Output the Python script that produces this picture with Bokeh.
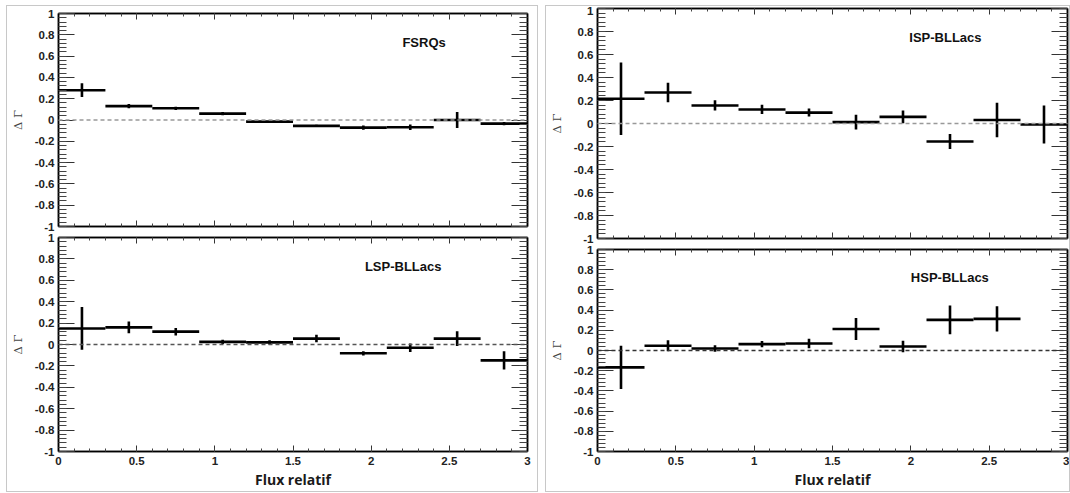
from bokeh.plotting import figure
from bokeh.models import (Span, Label, LinearAxis, SingleIntervalTicker,
                          CustomJSTickFormatter, Range1d, Spacer)
from bokeh.layouts import row, column
from bokeh.embed import file_html
from bokeh.resources import INLINE

# ---------------- data ----------------
bin_centers = [0.15, 0.45, 0.75, 1.05, 1.35, 1.65, 1.95, 2.25, 2.55, 2.85]
bin_half_width = 0.15

fsrq_vals = [0.28, 0.13, 0.11, 0.06, -0.015, -0.055, -0.072, -0.068, 0.0, -0.034]
fsrq_errs = [0.065, 0.02, 0.015, 0.015, 0.01, 0.01, 0.02, 0.025, 0.075, 0.015]

lsp_vals = [0.15, 0.16, 0.12, 0.025, 0.02, 0.055, -0.082, -0.03, 0.055, -0.148]
lsp_errs = [0.2, 0.055, 0.035, 0.02, 0.02, 0.035, 0.02, 0.04, 0.07, 0.085]

isp_vals = [0.215, 0.27, 0.157, 0.122, 0.095, 0.012, 0.058, -0.157, 0.031, -0.009]
isp_errs = [0.315, 0.085, 0.045, 0.04, 0.035, 0.065, 0.055, 0.065, 0.15, 0.165]

hsp_centers = bin_centers[:9]
hsp_vals = [-0.167, 0.047, 0.02, 0.063, 0.07, 0.213, 0.04, 0.303, 0.313]
hsp_errs = [0.215, 0.055, 0.033, 0.03, 0.047, 0.11, 0.057, 0.143, 0.125]

x_ticks_interval = 0.5
y_ticks_interval = 0.2
x_axis_title = "Flux relatif"
y_axis_title = "\u0394 \u0393"

FONT = "Liberation Sans"
NUM_FMT = "return Number(tick.toFixed(2)).toString();"
NO_FMT = "return '';"


def make_panel(name, centers, vals, errs, width, height, borders,
               show_x_labels, zero_color, title_xy):
    bl, br, bt, bb = borders
    p = figure(width=width, height=height, output_backend="svg", toolbar_location=None,
               x_range=Range1d(0, 3), y_range=Range1d(-1, 1),
               min_border_left=bl, min_border_right=br, min_border_top=bt,
               min_border_bottom=bb, background_fill_color="white",
               border_fill_color="white")
    p.grid.visible = False
    p.outline_line_color = "black"
    p.outline_line_width = 1.5

    p.add_layout(LinearAxis(), "right")
    p.add_layout(LinearAxis(), "above")
    for ax in p.yaxis:
        ax.ticker = SingleIntervalTicker(interval=y_ticks_interval, num_minor_ticks=5)
        ax.major_tick_in = 16
        ax.major_tick_out = 0
        ax.minor_tick_in = 8
        ax.minor_tick_out = 0
    for ax in p.xaxis:
        ax.ticker = SingleIntervalTicker(interval=x_ticks_interval, num_minor_ticks=5)
        ax.major_tick_in = 6
        ax.major_tick_out = 0
        ax.minor_tick_in = 3
        ax.minor_tick_out = 0
    for ax in list(p.xaxis) + list(p.yaxis):
        ax.axis_line_color = "black"
        ax.axis_line_width = 1.5
        ax.major_tick_line_color = "#333333"
        ax.minor_tick_line_color = "#444444"
        ax.major_label_text_font = FONT
        ax.major_label_text_font_style = "bold"
        ax.major_label_text_font_size = "11.5px"
        ax.major_label_text_color = "#222222"
        ax.major_label_standoff = 4
        ax.formatter = CustomJSTickFormatter(code=NUM_FMT)

    # mirrored axes: ticks only
    for ax in (p.right[0], p.above[0]):
        ax.formatter = CustomJSTickFormatter(code=NO_FMT)
        ax.major_label_standoff = 0

    bottom_axis = p.below[0]
    if show_x_labels:
        bottom_axis.axis_label = x_axis_title
        bottom_axis.axis_label_text_font = "Open Sans"
        bottom_axis.axis_label_text_font_style = "bold"
        bottom_axis.axis_label_text_font_size = "14px"
        bottom_axis.axis_label_text_color = "#1a1a1a"
        bottom_axis.axis_label_standoff = 2
        bottom_axis.major_label_standoff = 5
    else:
        bottom_axis.formatter = CustomJSTickFormatter(code=NO_FMT)
        bottom_axis.major_label_standoff = 0

    left_axis = p.left[0]
    left_axis.axis_label = y_axis_title
    left_axis.axis_label_text_font = "DejaVu Serif"
    left_axis.axis_label_text_font_style = "normal"
    left_axis.axis_label_text_font_size = "11.5px"
    left_axis.axis_label_text_color = "#444444"
    left_axis.axis_label_standoff = 7

    p.add_layout(Span(location=0, dimension="width", line_color=zero_color,
                      line_dash="4 3", line_width=1.5))

    x0 = [c - bin_half_width for c in centers]
    x1 = [c + bin_half_width for c in centers]
    ylo = [v - e for v, e in zip(vals, errs)]
    yhi = [v + e for v, e in zip(vals, errs)]
    p.segment(x0=x0, x1=x1, y0=vals, y1=vals, line_color="black", line_width=2.6)
    p.segment(x0=centers, x1=centers, y0=ylo, y1=yhi, line_color="black", line_width=2.6)

    p.add_layout(Label(x=title_xy[0], y=title_xy[1], text=name, text_font=FONT,
                       text_font_style="bold", text_font_size="13px",
                       text_color="#111111", text_baseline="middle"))
    return p


lt = make_panel("FSRQs", bin_centers, fsrq_vals, fsrq_errs, 530, 225,
                (47, 10, 7, 5), False, "#999999", (2.2, 0.73))
lb = make_panel("LSP-BLLacs", bin_centers, lsp_vals, lsp_errs, 530, 260,
                (47, 10, 6, 40), True, "#555555", (1.96, 0.73))
rt = make_panel("ISP-BLLacs", bin_centers, isp_vals, isp_errs, 523, 237,
                (45, 2, 2, 5), False, "#999999", (1.99, 0.75))
rb = make_panel("HSP-BLLacs", hsp_centers, hsp_vals, hsp_errs, 523, 248,
                (45, 2, 6, 39), True, "#333333", (2.0, 0.72))

left_col = column(lt, lb, spacing=0, styles={"outline": "1px solid #c8c8c8"})
right_col = column(rt, rb, spacing=0, styles={"outline": "1px solid #c8c8c8"})
inner = row(Spacer(width=7, height=10), left_col, Spacer(width=9, height=10), right_col,
            spacing=0)
layout = column(Spacer(width=10, height=6), inner, spacing=0)

open("out.html", "w").write(file_html(layout, INLINE))
